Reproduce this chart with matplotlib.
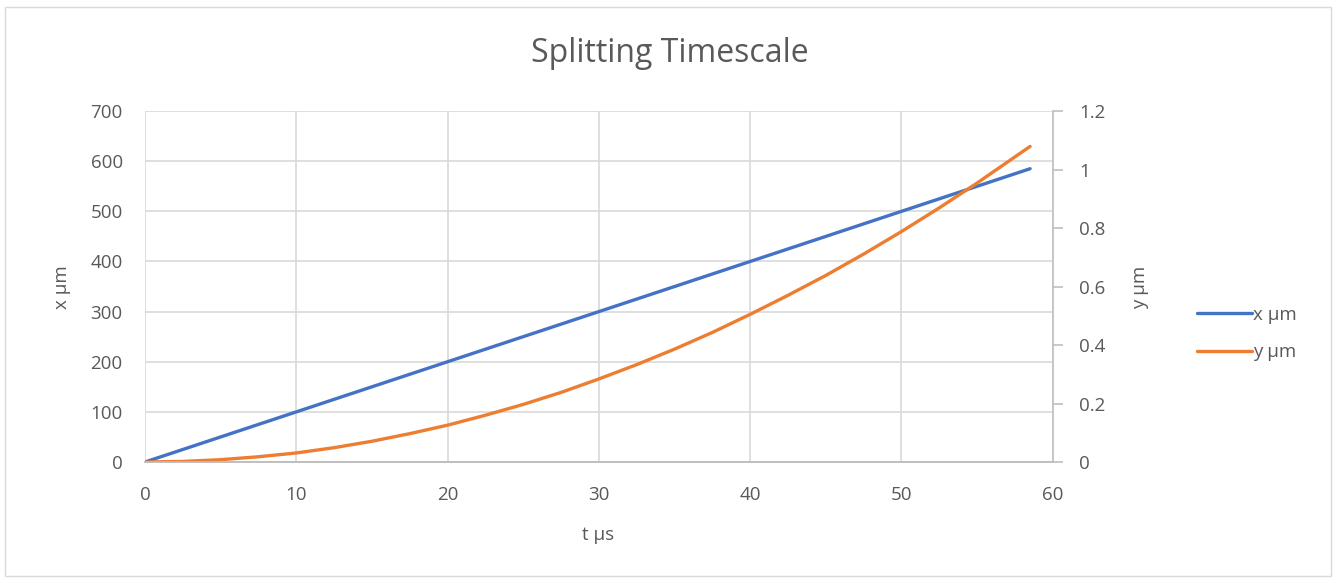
import numpy as np
import matplotlib.pyplot as plt
from matplotlib.patches import Rectangle

# values
t_us = [0, 2.5, 5, 7.5, 10, 12.5, 15, 17.5, 20, 22.5, 25, 27.5, 30, 32.5, 35,
        37.5, 40, 42.5, 45, 47.5, 50, 52.5, 55, 58.5]
x_um = [0, 25, 50, 75, 100, 125, 150, 175, 200, 225, 250, 275, 300, 325, 350,
        375, 400, 425, 450, 475, 500, 525, 550, 585]
y_um = [0, 0.002, 0.008, 0.018, 0.031, 0.049, 0.071, 0.097, 0.126, 0.160, 0.197,
        0.238, 0.284, 0.333, 0.386, 0.443, 0.505, 0.570, 0.638, 0.711, 0.788,
        0.869, 0.954, 1.079]

grey = '#595959'
plt.rcParams['font.family'] = ['Open Sans', 'DejaVu Sans']

fig = plt.figure(figsize=(13.36, 5.83), dpi=100)
fig.patches.append(Rectangle((0.004, 0.012), 0.992, 0.976, transform=fig.transFigure,
                             fill=False, edgecolor='#d9d9d9', linewidth=1))
ax = fig.add_axes([0.1085, 0.2075, 0.6795, 0.602])
ax2 = ax.twinx()

l1, = ax.plot(t_us, x_um, color='#4472C4', lw=2.4, label='x µm', solid_capstyle='round')
l2, = ax2.plot(t_us, y_um, color='#ED7D31', lw=2.4, label='y µm', solid_capstyle='round')

ax.set_xlim(0, 60)
ax.set_ylim(0, 700)
ax2.set_ylim(0, 1.2)
ax.set_xticks(range(0, 61, 10))
ax.set_yticks(range(0, 701, 100))
ax2.set_yticks([0, 0.2, 0.4, 0.6, 0.8, 1, 1.2])
ax2.set_yticklabels(['0', '0.2', '0.4', '0.6', '0.8', '1', '1.2'])

ax.grid(True, color='#d9d9d9', lw=1.2)
ax.set_axisbelow(True)
for a in (ax, ax2):
    for s in ('top', 'left', 'right'):
        a.spines[s].set_visible(False)
    a.spines['bottom'].set_color('#bfbfbf')
    a.spines['bottom'].set_linewidth(1.2)
ax2.spines['right'].set_visible(True)
ax2.spines['right'].set_color('#bfbfbf')
ax2.spines['right'].set_linewidth(1.2)

ax.tick_params(axis='y', length=0, labelsize=13.5, labelcolor=grey, pad=16)
ax.tick_params(axis='x', length=0, labelsize=13.5, labelcolor=grey, pad=17)
ax2.tick_params(axis='y', length=7, color='#bfbfbf', width=1.2, labelsize=13.5,
                labelcolor=grey, pad=12)

fig.text(670 / 1336, 1 - 54 / 583, 'Splitting Timescale', fontsize=23, color=grey,
         ha='center', va='center')
fig.text(598 / 1336, 1 - 535 / 583, 't µs', fontsize=13.5, color=grey,
         ha='center', va='center')
fig.text(62 / 1336, 1 - 287 / 583, 'x µm', fontsize=13.5, color=grey,
         ha='center', va='center', rotation=90)
fig.text(1140 / 1336, 1 - 287 / 583, 'y µm', fontsize=13.5, color=grey,
         ha='center', va='center', rotation=90)

fig.legend(handles=[l1, l2], loc='center left', bbox_to_anchor=(0.8835, 0.428),
           frameon=False, fontsize=13.5, labelcolor=grey, handlelength=2.9,
           handletextpad=0.1, labelspacing=1.05)

fig.savefig('out.png', dpi=100)
